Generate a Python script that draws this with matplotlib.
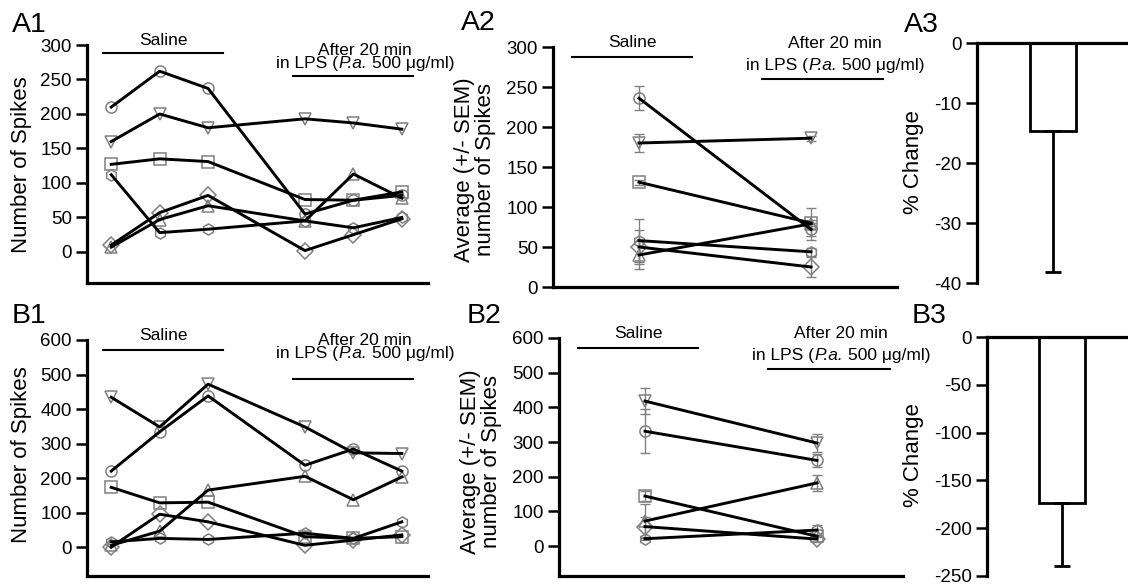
import matplotlib
matplotlib.use("Agg")
import matplotlib.pyplot as plt

plt.rcParams['font.family'] = ['Liberation Sans', 'DejaVu Sans']

# x positions: 3 saline recordings, gap, 3 recordings in LPS
time_x = [1, 2, 3, 5, 6, 7]
cond_x = [1, 2]

# A1 : number of spikes per neuron
a1_circle = [210, 262, 237, 55, 75, 82]
a1_downtri = [160, 200, 180, 193, 187, 178]
a1_square = [127, 135, 131, 76, 75, 87]
a1_hex = [112, 28, 33, 45, 35, 50]
a1_diamond = [10, 57, 82, 2, 25, 48]
a1_triangle = [7, 47, 67, 45, 113, 78]

# A2 : average +/- SEM (saline, LPS)
a2_circle = [236, 72];   a2_circle_err = [15, 8]
a2_downtri = [180, 186]; a2_downtri_err = [11, 3]
a2_square = [131, 80];   a2_square_err = [3, 4]
a2_hex = [58, 44];       a2_hex_err = [27, 5]
a2_diamond = [50, 25];   a2_diamond_err = [21, 13]
a2_triangle = [40, 79];  a2_triangle_err = [17, 20]

# A3 : % change
a3_change = [-14.6]
a3_err = [23.6]

# B1
b1_circle = [220, 334, 438, 237, 284, 220]
b1_downtri = [434, 348, 472, 348, 273, 271]
b1_square = [173, 128, 130, 30, 25, 30]
b1_hex = [15, 25, 22, 40, 25, 73]
b1_diamond = [0, 95, 73, 5, 20, 35]
b1_triangle = [5, 46, 165, 205, 137, 203]

# B2
b2_circle = [331, 247];  b2_circle_err = [63, 19]
b2_downtri = [418, 297]; b2_downtri_err = [37, 25]
b2_square = [144, 28];   b2_square_err = [15, 2]
b2_hex = [21, 46];       b2_hex_err = [3, 14]
b2_diamond = [56, 20];   b2_diamond_err = [29, 9]
b2_triangle = [72, 182]; b2_triangle_err = [48, 22]

# B3
b3_change = [-174]
b3_err = [66]

markers = ['o', 'v', 's', 'h', 'D', '^']
a1_series = [a1_circle, a1_downtri, a1_square, a1_hex, a1_diamond, a1_triangle]
a2_series = [a2_circle, a2_downtri, a2_square, a2_hex, a2_diamond, a2_triangle]
a2_errs = [a2_circle_err, a2_downtri_err, a2_square_err, a2_hex_err, a2_diamond_err, a2_triangle_err]
b1_series = [b1_circle, b1_downtri, b1_square, b1_hex, b1_diamond, b1_triangle]
b2_series = [b2_circle, b2_downtri, b2_square, b2_hex, b2_diamond, b2_triangle]
b2_errs = [b2_circle_err, b2_downtri_err, b2_square_err, b2_hex_err, b2_diamond_err, b2_triangle_err]

W, H = 1128, 586
fig = plt.figure(figsize=(W / 100, H / 100), dpi=100)
renderer = fig.canvas.get_renderer()

MK_COL = '#808080'
TICK_FS = 13.5
NOTE_FS = 12.5
LPS_PARTS = [('in LPS (', 'normal'), ('P.a.', 'italic'), ('500 \u03bcg/ml)', 'normal')]


def px_axes(x0, x1, ytop, ybot):
    return fig.add_axes([x0 / W, 1 - ybot / H, (x1 - x0) / W, (ybot - ytop) / H])


def style(ax, top_axis=False):
    ax.spines['right'].set_visible(False)
    if top_axis:
        ax.spines['bottom'].set_visible(False)
    else:
        ax.spines['top'].set_visible(False)
    for s in ['left', 'bottom', 'top']:
        ax.spines[s].set_linewidth(2.3)
    ax.set_xticks([])
    ax.tick_params(axis='y', direction='out', length=8, width=1.8, labelsize=TICK_FS, pad=3)


def rich_line(ax, xc, yb, parts, fs):
    # place mixed roman / italic pieces on one baseline, centred at xc
    space = 0.28 * fs * 100 / 72
    axw = ax.get_window_extent(renderer).width
    arts, widths = [], []
    for s, st in parts:
        t = ax.text(0, yb, s, transform=ax.transAxes, fontsize=fs, fontstyle=st,
                    ha='left', va='baseline')
        arts.append(t)
        widths.append(t.get_window_extent(renderer).width)
    gaps = [0, 0] + [space] * (len(parts) - 2)
    gaps[1] = 0.5
    total = sum(widths) + sum(gaps)
    x = xc - total / axw / 2
    for t, w, g in zip(arts, widths, gaps):
        x += g / axw
        t.set_x(x)
        x += w / axw


def brackets(ax, sal, aft):
    # sal = (x0, x1, yline, ytext); aft = (x0, x1, yline, ybase1, ybase2, xtext)
    ax.plot([sal[0], sal[1]], [sal[2], sal[2]], color='black', lw=1.5,
            transform=ax.transAxes, clip_on=False)
    ax.text((sal[0] + sal[1]) / 2, sal[3], 'Saline', transform=ax.transAxes,
            ha='center', va='center', fontsize=NOTE_FS)
    ax.plot([aft[0], aft[1]], [aft[2], aft[2]], color='black', lw=1.5,
            transform=ax.transAxes, clip_on=False)
    ax.text(aft[5], aft[3], 'After 20 min', transform=ax.transAxes,
            ha='center', va='baseline', fontsize=NOTE_FS)
    rich_line(ax, aft[5], aft[4], LPS_PARTS, NOTE_FS)


def time_panel(ax, series, ylim, yticks):
    for vals, m in zip(series, markers):
        ax.plot(time_x, vals, color='black', lw=2.1, zorder=3)
        ax.plot(time_x, vals, ls='none', marker=m, ms=8, mfc='none',
                mec=MK_COL, mew=1.1, zorder=2)
    ax.set_xlim(0.5, 7.54)
    ax.set_ylim(*ylim)
    ax.set_yticks(yticks)
    ax.spines['left'].set_bounds(ylim[0], yticks[-1])
    style(ax)


def mean_panel(ax, series, errs, ylim, yticks):
    for vals, e, m in zip(series, errs, markers):
        ax.errorbar(cond_x, vals, yerr=e, ls='none', ecolor=MK_COL, elinewidth=1,
                    capsize=3.5, capthick=1, zorder=1)
        ax.plot(cond_x, vals, color='black', lw=2.1, zorder=3)
        ax.plot(cond_x, vals, ls='none', marker=m, ms=8, mfc='none',
                mec=MK_COL, mew=1.1, zorder=2)
    ax.set_xlim(0.5, 2.5)
    ax.set_ylim(*ylim)
    ax.set_yticks(yticks)
    ax.spines['left'].set_bounds(ylim[0], yticks[-1])
    style(ax)


def change_panel(ax, val, err, ylim, yticks, xmax):
    ax.bar([1], val, width=0.61, color='white', edgecolor='black', lw=2)
    ax.errorbar([1], val, yerr=[err, [0]], ls='none', ecolor='black',
                elinewidth=2, capsize=6, capthick=2)
    ax.set_xlim(0, xmax)
    ax.set_ylim(*ylim)
    ax.set_yticks(yticks)
    ax.set_yticklabels([str(t) for t in yticks])
    style(ax, top_axis=True)


# ---- row A ----
axA1 = px_axes(87, 428, 45, 283)
time_panel(axA1, a1_series, (-45, 300), [0, 50, 100, 150, 200, 250, 300])
brackets(axA1, (0.047, 0.399, 0.966, 1.017), (0.604, 0.956, 0.870, 0.958, 0.903, 0.815))

axA2 = px_axes(553, 897, 47, 287)
mean_panel(axA2, a2_series, a2_errs, (0, 300), [0, 50, 100, 150, 200, 250, 300])
brackets(axA2, (0.055, 0.404, 0.958, 1.017), (0.608, 0.959, 0.867, 0.996, 0.904, 0.82))

axA3 = px_axes(977, 1128, 43, 283)
change_panel(axA3, a3_change, a3_err, (-40, 0), [0, -10, -20, -30, -40], 1.99)

# ---- row B ----
axB1 = px_axes(87, 428, 340, 576)
time_panel(axB1, b1_series, (-84, 600), [0, 100, 200, 300, 400, 500, 600])
brackets(axB1, (0.047, 0.399, 0.958, 1.021), (0.604, 0.956, 0.835, 0.979, 0.924, 0.815))

axB2 = px_axes(559, 903, 338, 576)
mean_panel(axB2, b2_series, b2_errs, (-86.5, 600), [0, 100, 200, 300, 400, 500, 600])
brackets(axB2, (0.055, 0.404, 0.958, 1.021), (0.608, 0.962, 0.870, 1.0, 0.908, 0.82))

axB3 = px_axes(987, 1128, 337, 576)
change_panel(axB3, b3_change, b3_err, (-250, 0), [0, -50, -100, -150, -200, -250], 1.88)

# y labels
YL_FS = 16
fig.text(22 / W, 1 - 165 / H, 'Number of Spikes', rotation=90, ha='center', va='center', fontsize=YL_FS)
fig.text(475 / W, 1 - 170 / H, 'Average (+/- SEM)\nnumber of Spikes', rotation=90,
         ha='center', va='center', fontsize=YL_FS, linespacing=0.95)
fig.text(914 / W, 1 - 162 / H, '% Change', rotation=90, ha='center', va='center', fontsize=YL_FS)
fig.text(22 / W, 1 - 455 / H, 'Number of Spikes', rotation=90, ha='center', va='center', fontsize=YL_FS)
fig.text(481 / W, 1 - 462 / H, 'Average (+/- SEM)\nnumber of Spikes', rotation=90,
         ha='center', va='center', fontsize=YL_FS, linespacing=0.95)
fig.text(914 / W, 1 - 455 / H, '% Change', rotation=90, ha='center', va='center', fontsize=YL_FS)

# panel letters
for lab, x, y in [('A1', 12, 32), ('A2', 461, 30), ('A3', 904, 32),
                  ('B1', 12, 323), ('B2', 467, 323), ('B3', 912, 323)]:
    fig.text(x / W, 1 - y / H, lab, va='baseline', ha='left', fontsize=20.5)

fig.savefig('out.png', dpi=100)
